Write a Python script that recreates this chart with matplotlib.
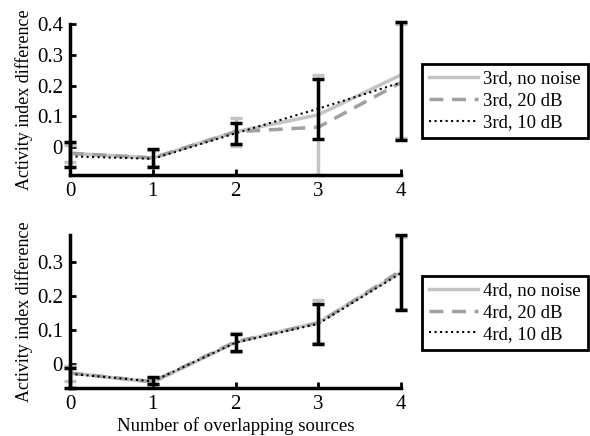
import numpy as np
import matplotlib.pyplot as plt

plt.rcParams['font.family'] = ['Liberation Serif', 'DejaVu Serif']

x = [0, 1, 2, 3, 4]

# 3rd order results
top_clean = [-0.02, -0.035, 0.05, 0.105, 0.235]
top_20db = [-0.02, -0.035, 0.05, 0.065, 0.21]
top_10db = [-0.03, -0.038, 0.045, 0.125, 0.21]
top_clean_lo = [-0.047, -0.06, 0.005, -0.09, 0.03]
top_clean_hi = [0.007, -0.01, 0.095, 0.235, 0.40]
top_10db_lo = [-0.065, -0.065, 0.01, 0.026, 0.023]
top_10db_hi = [0.016, -0.007, 0.078, 0.222, 0.405]

# 4th order results
bot_clean = [-0.027, -0.055, 0.063, 0.122, 0.27]
bot_20db = [-0.028, -0.053, 0.065, 0.12, 0.275]
bot_10db = [-0.03, -0.052, 0.062, 0.118, 0.268]
bot_clean_lo = [-0.05, -0.06, 0.035, 0.06, 0.16]
bot_clean_hi = [-0.006, -0.045, 0.092, 0.188, 0.375]
bot_10db_lo = [-0.072, -0.06, 0.036, 0.057, 0.158]
bot_10db_hi = [-0.012, -0.04, 0.087, 0.176, 0.38]

light = '#c4c4c4'
mid = '#a0a0a0'


def errbars(ax, mean, lo, hi, color, z):
    m = np.array(mean)
    _, caps, bars = ax.errorbar(x, m, yerr=[m - np.array(lo), np.array(hi) - m], fmt='none',
                                ecolor=color, elinewidth=2.5, capsize=4.5, capthick=2.5, zorder=z)
    for a in list(caps) + list(bars):
        a.set_clip_on(False)


def panel(ax, clean, db20, db10, clo, chi, blo, bhi, order, ylim, yticks):
    errbars(ax, clean, clo, chi, light, 2)
    ax.plot(x, clean, '-', color=light, lw=2.5, label=f'{order}, no noise', zorder=3)
    ax.plot(x, db20, '--', color=mid, lw=2.5, dashes=(4, 2.5), label=f'{order}, 20 dB', zorder=4)
    ax.plot(x, db10, ':', color='black', lw=1.5, label=f'{order}, 10 dB', zorder=5)
    errbars(ax, db10, blo, bhi, 'black', 6)
    ax.set_xlim(0, 4)
    ax.set_ylim(*ylim)
    ax.set_xticks(x)
    ax.set_yticks(yticks)
    ax.set_yticklabels(['0' if t == 0 else f'{t:.1f}' for t in yticks])
    for s in ['top', 'right']:
        ax.spines[s].set_visible(False)
    for s in ['left', 'bottom']:
        ax.spines[s].set_linewidth(2.5)
    ax.tick_params(direction='in', length=4, width=2, labelsize=15, pad=5)
    ax.set_ylabel('Activity index difference', fontsize=13, labelpad=3)
    ax.patch.set_alpha(0)
    return ax


fig = plt.figure(figsize=(5.9, 4.36), dpi=100)
ax1 = fig.add_axes([0.1186, 0.599, 0.5614, 0.346])
ax2 = fig.add_axes([0.1186, 0.110, 0.5614, 0.351])

panel(ax1, top_clean, top_20db, top_10db, top_clean_lo, top_clean_hi,
      top_10db_lo, top_10db_hi, '3rd', (-0.09, 0.4), [0, 0.1, 0.2, 0.3, 0.4])
panel(ax2, bot_clean, bot_20db, bot_10db, bot_clean_lo, bot_clean_hi,
      bot_10db_lo, bot_10db_hi, '4rd', (-0.072, 0.38), [0, 0.1, 0.2, 0.3])
ax2.set_xlabel('Number of overlapping sources', fontsize=13.5, labelpad=2)

for ax, yc in [(ax1, 0.769), (ax2, 0.283)]:
    leg = ax.legend(loc='center left', bbox_to_anchor=(0.716, yc),
                    bbox_transform=fig.transFigure, fontsize=13.5, frameon=True,
                    fancybox=False, framealpha=1, handlelength=2.6, handletextpad=0.3,
                    borderpad=0.35, labelspacing=0.25, borderaxespad=0)
    leg.get_frame().set_edgecolor('black')
    leg.get_frame().set_linewidth(2)

fig.savefig('out.png', dpi=100)
